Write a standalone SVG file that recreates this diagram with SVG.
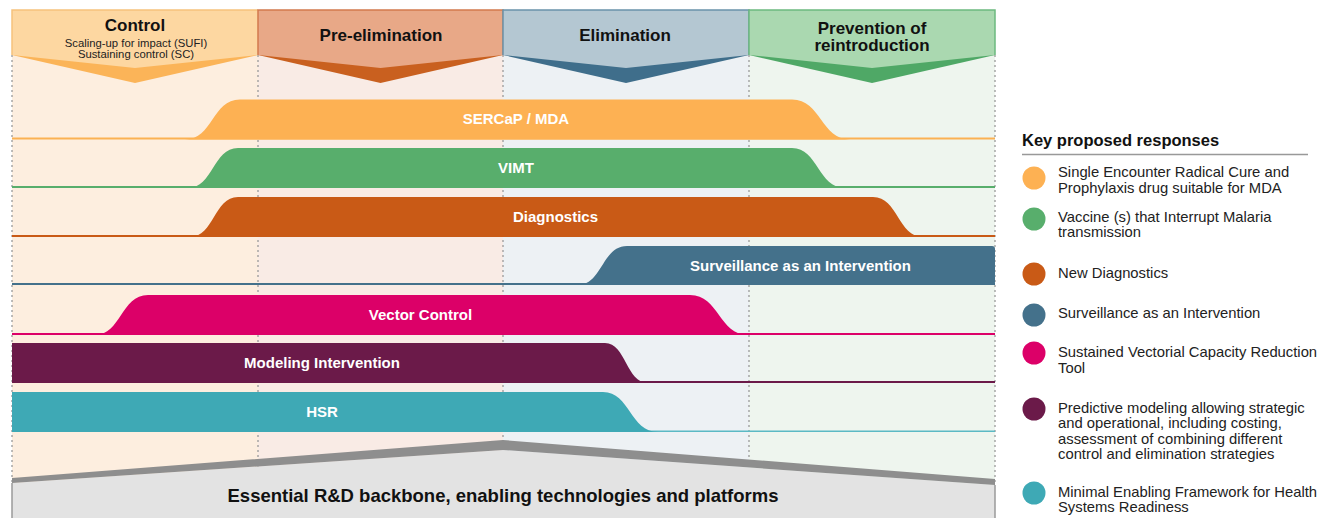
<svg xmlns="http://www.w3.org/2000/svg" width="1324" height="518" viewBox="0 0 1324 518">
<style>
text{font-family:"Liberation Sans",Arial,Helvetica,sans-serif}
.ph{font-size:17px;font-weight:bold;fill:#111;text-anchor:middle}
.phs{font-size:11.3px;fill:#222;text-anchor:middle}
.bl{font-size:15px;font-weight:bold;fill:#fff;text-anchor:middle}
.lg{font-size:14.8px;fill:#222}
.grid{stroke:#9a9a9a;stroke-width:1.3;stroke-dasharray:2 3;fill:none}
</style>
<rect width="1324" height="518" fill="#fff"/>
<g id="columns">
<rect x="12" y="10" width="246" height="480" fill="#FDEEDF"/>
<rect x="258" y="10" width="245" height="480" fill="#F9EBE5"/>
<rect x="503" y="10" width="246" height="480" fill="#EDF1F4"/>
<rect x="749" y="10" width="246" height="480" fill="#EEF5EE"/>
</g>
<g id="gridlines">
<line class="grid" x1="12" y1="55" x2="12" y2="482"/>
<line class="grid" x1="258" y1="55" x2="258" y2="470"/>
<line class="grid" x1="503" y1="55" x2="503" y2="445"/>
<line class="grid" x1="749" y1="55" x2="749" y2="470"/>
<line class="grid" x1="995" y1="55" x2="995" y2="482"/>
</g>
<g id="phase-control">
<polygon points="12,10 258,10 258,55 135,83 12,55" fill="#FBB458"/>
<polygon points="12,10 258,10 258,55 135,68 12,55" fill="#FDD7A1"/>
<polyline points="12,55 12,10 258,10" fill="none" stroke="#F6C27C" stroke-width="1.5"/>
<text class="ph" x="135" y="31">Control</text>
<text class="phs" x="136" y="46.5">Scaling-up for impact (SUFI)</text>
<text class="phs" x="136" y="58">Sustaining control (SC)</text>
</g>
<g id="phase-preelimination">
<polygon points="258,10 503,10 503,55 380.5,83 258,55" fill="#C9601F"/>
<polygon points="258,10 503,10 503,55 380.5,68 258,55" fill="#E8A887"/>
<polyline points="258,55 258,10 503,10 503,55" fill="none" stroke="#D27A4E" stroke-width="1.5"/>
<text class="ph" x="381" y="41">Pre-elimination</text>
</g>
<g id="phase-elimination">
<polygon points="503,10 749,10 749,55 626,83 503,55" fill="#3F6E8B"/>
<polygon points="503,10 749,10 749,55 626,68 503,55" fill="#B4C7D2"/>
<polyline points="503,55 503,10 749,10 749,55" fill="none" stroke="#6A93AB" stroke-width="1.5"/>
<text class="ph" x="625" y="41">Elimination</text>
</g>
<g id="phase-prevention">
<polygon points="749,10 995,10 995,55 872,83 749,55" fill="#4FA866"/>
<polygon points="749,10 995,10 995,55 872,68 749,55" fill="#AAD8B0"/>
<polyline points="749,55 749,10 995,10 995,55" fill="none" stroke="#6CB97F" stroke-width="1.5"/>
<text class="ph" x="872" y="34">Prevention of</text>
<text class="ph" x="872" y="51">reintroduction</text>
</g>
<g id="band-sercap">
<rect x="12" y="137.5" width="983" height="2" fill="#FBB153"/>
<path d="M185,139.5 C213,139.5 212,99.5 240,99.5 L792,99.5 C821,99.5 821,139.5 850,139.5 Z" fill="#FDB153"/>
<text class="bl" x="516" y="124">SERCaP / MDA</text>
</g>
<g id="band-vimt">
<rect x="12" y="186" width="983" height="2" fill="#58AE6C"/>
<path d="M188,188 C213,188 213,148 238,148 L792,148 C818,148 818,188 845,188 Z" fill="#58AE6C"/>
<text class="bl" x="516" y="173">VIMT</text>
</g>
<g id="band-diagnostics">
<rect x="12" y="235" width="983" height="2" fill="#C95A16"/>
<path d="M190,237 C214,237 214,197 238,197 L873,197 C898,197 898,237 923,237 Z" fill="#C95A16"/>
<text class="bl" x="555.5" y="222">Diagnostics</text>
</g>
<g id="band-surveillance">
<rect x="12" y="283" width="983" height="2" fill="#44718B"/>
<path d="M578,285 C602,285 602,246 627,246 L992,246 Q995,246 995,249 L995,282 Q995,285 992,285 Z" fill="#44718B"/>
<text class="bl" x="800.5" y="271">Surveillance as an Intervention</text>
</g>
<g id="band-vector-control">
<rect x="12" y="333" width="983" height="2" fill="#DC0068"/>
<path d="M95,335 C121,335 121,295 148,295 L690,295 C719,295 719,335 748,335 Z" fill="#DC0068"/>
<text class="bl" x="420.5" y="320">Vector Control</text>
</g>
<g id="band-modeling">
<rect x="12" y="381" width="983" height="2" fill="#6B1A49"/>
<path d="M12,343 L605,343 C626,343 626,383 648,383 L12,383 Z" fill="#6B1A49"/>
<text class="bl" x="322" y="368">Modeling Intervention</text>
</g>
<g id="band-hsr">
<rect x="12" y="430.5" width="983" height="1.5" fill="#5BB9C4"/>
<path d="M12,392 L603,392 C630,392 630,432 658,432 L12,432 Z" fill="#3EA9B5"/>
<text class="bl" x="322" y="417">HSR</text>
</g>
<g id="backbone">
<polygon points="12,483 503,450 995,485 995,518 12,518" fill="#E3E3E3"/>
<polygon points="12,478 503,440 995,479 995,485 503,450 12,483" fill="#8E8E8E"/>
<line x1="12" y1="483" x2="12" y2="518" stroke="#9a9a9a" stroke-width="1.5"/>
<line x1="995" y1="485" x2="995" y2="518" stroke="#9a9a9a" stroke-width="1.5"/>
<text x="503" y="502" font-size="18.5" font-weight="bold" fill="#111" text-anchor="middle">Essential R&amp;D backbone, enabling technologies and platforms</text>
</g>
<g id="legend">
<text x="1022" y="146" font-size="16.5" font-weight="bold" fill="#111">Key proposed responses</text>
<line x1="1022" y1="154.5" x2="1308" y2="154.5" stroke="#999" stroke-width="1.5"/>
<g id="legend-sercap"><circle cx="1034" cy="178" r="11.5" fill="#FDB153"/>
<text class="lg" x="1058" y="177">Single Encounter Radical Cure and</text>
<text class="lg" x="1058" y="193">Prophylaxis drug suitable for MDA</text></g>
<g id="legend-vimt"><circle cx="1034" cy="219" r="11.5" fill="#58AE6C"/>
<text class="lg" x="1058" y="222">Vaccine (s) that Interrupt Malaria</text>
<text class="lg" x="1058" y="237">transmission</text></g>
<g id="legend-diagnostics"><circle cx="1034" cy="274" r="11.5" fill="#C95A16"/>
<text class="lg" x="1058" y="278">New Diagnostics</text></g>
<g id="legend-surveillance"><circle cx="1034" cy="315" r="11.5" fill="#44718B"/>
<text class="lg" x="1058" y="318">Surveillance as an Intervention</text></g>
<g id="legend-vector"><circle cx="1034" cy="353" r="11.5" fill="#DC0068"/>
<text class="lg" x="1058" y="357">Sustained Vectorial Capacity Reduction</text>
<text class="lg" x="1058" y="373">Tool</text></g>
<g id="legend-modeling"><circle cx="1034" cy="409" r="11.5" fill="#6B1A49"/>
<text class="lg" x="1058" y="413">Predictive modeling allowing strategic</text>
<text class="lg" x="1058" y="428">and operational, including costing,</text>
<text class="lg" x="1058" y="444">assessment of combining different</text>
<text class="lg" x="1058" y="459">control and elimination strategies</text></g>
<g id="legend-hsr"><circle cx="1034" cy="493" r="11.5" fill="#3EA9B5"/>
<text class="lg" x="1058" y="497">Minimal Enabling Framework for Health</text>
<text class="lg" x="1058" y="512">Systems Readiness</text></g>
</g>
</svg>
